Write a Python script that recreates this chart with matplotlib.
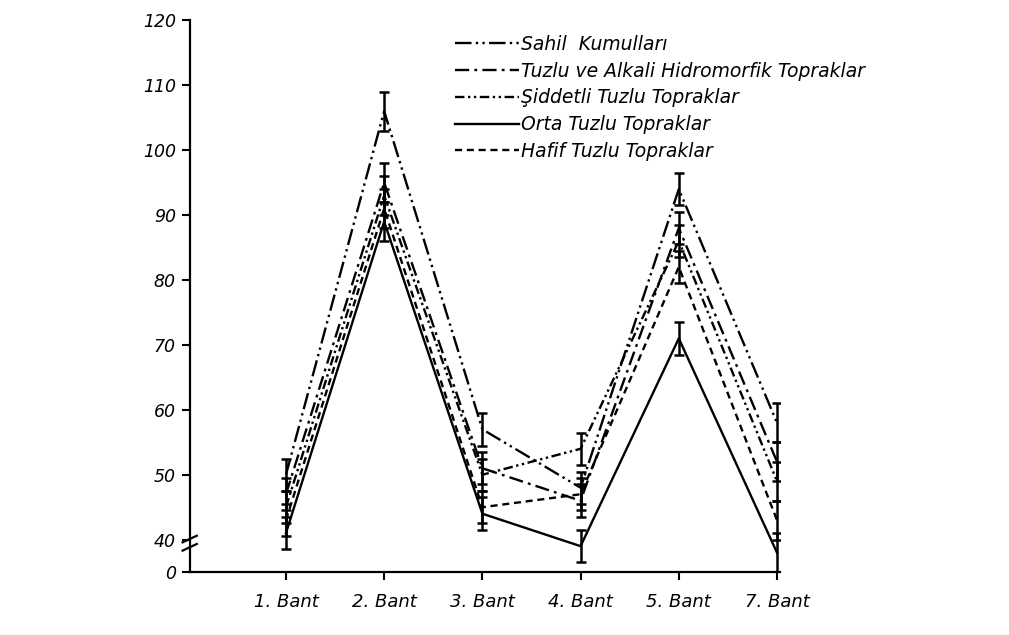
import matplotlib.pyplot as plt
import numpy as np

# bantlar ve seriler (grafikten okunan yaklasik degerler)
bantlar = ['1. Bant', '2. Bant', '3. Bant', '4. Bant', '5. Bant', '7. Bant']
seri_adlari = ['Sahil  Kumulları',
               'Tuzlu ve Alkali Hidromorfik Topraklar',
               'Şiddetli Tuzlu Topraklar',
               'Orta Tuzlu Topraklar',
               'Hafif Tuzlu Topraklar']
sahil = [50, 106, 57, 48, 94, 58]
alkali = [47, 95, 51, 46, 88, 52]
siddetli = [45, 93, 50, 54, 86, 49]
orta = [41, 89, 44, 39, 71, 38]
hafif = [43, 91, 45, 47, 82, 43]
hata = [2.5, 3.0, 2.5, 2.5, 2.5, 3.0]   # hata cubuklari

y_ticks = [35, 40, 50, 60, 70, 80, 90, 100, 110, 120]
y_labels = ['0', '40', '50', '60', '70', '80', '90', '100', '110', '120']

stiller = [(0, (7, 1.8, 1, 1.8, 1, 1.8)),
           (0, (6, 2.2, 1.2, 2.2)),
           (0, (4, 1.5, 1, 1.5, 1, 1.5)),
           '-',
           (0, (3, 2))]

fig = plt.figure(figsize=(10.09, 6.35), dpi=100)
ax = fig.add_axes([0.188, 0.099, 0.585, 0.869])

x = np.arange(1, len(bantlar) + 1)
for veri, stil, ad in zip([sahil, alkali, siddetli, orta, hafif], stiller, seri_adlari):
    ax.errorbar(x, veri, yerr=hata, color='black', linestyle=stil, linewidth=1.7,
                elinewidth=1.8, capsize=3.5, capthick=1.8, label=ad)

ax.set_xlim(0.02, 6.03)
ax.set_ylim(35, 120)
ax.set_xticks(x)
ax.set_xticklabels(bantlar, fontsize=13, style='italic')
ax.set_yticks(y_ticks)
ax.set_yticklabels(y_labels, fontsize=12.5, style='italic')
ax.tick_params(axis='both', direction='out', length=6, width=1.5, pad=4)
ax.tick_params(axis='x', pad=9)
for s in ['top', 'right']:
    ax.spines[s].set_visible(False)
for s in ['left', 'bottom']:
    ax.spines[s].set_linewidth(1.6)

# eksen kirilma isareti
for yy in [0.045, 0.06]:
    ax.plot([-0.012, 0.012], [yy - 0.006, yy + 0.006], transform=ax.transAxes,
            color='black', linewidth=1.6, clip_on=False)

h, l = ax.get_legend_handles_labels()
h = [hh[0] for hh in h]
leg = fig.legend(h, l, loc='upper left', bbox_to_anchor=(455 / 1009, 1 - 35 / 635),
                 frameon=False, fontsize=13.5, handlelength=3.4, handletextpad=0.1,
                 labelspacing=0.41, borderpad=0, borderaxespad=0)
for t in leg.get_texts():
    t.set_style('italic')

fig.savefig('out.png', dpi=100)
